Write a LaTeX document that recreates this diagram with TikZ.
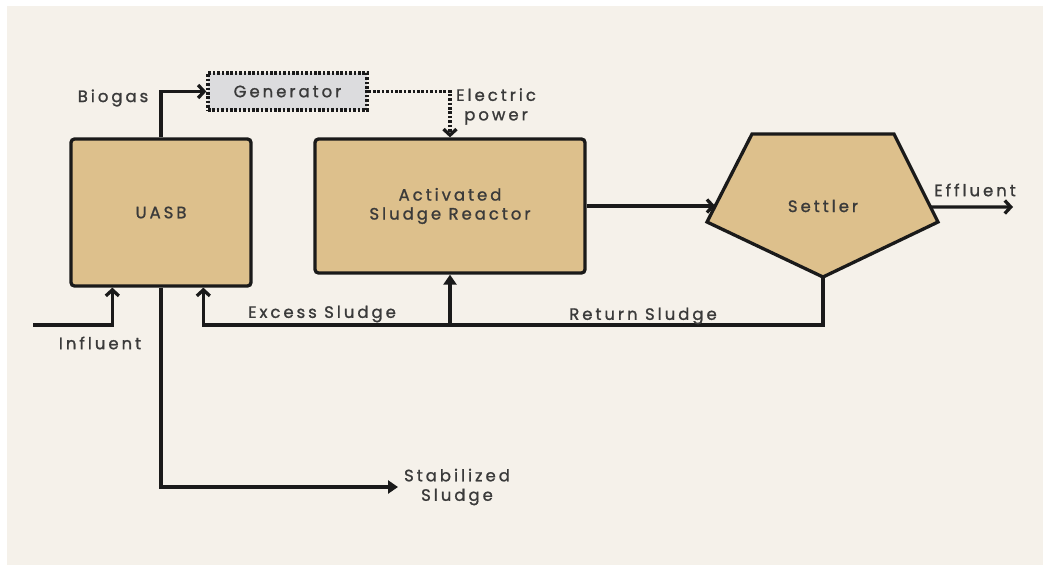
\documentclass[tikz,border=0pt]{standalone}
\usepackage{fontspec}
\setmainfont{Poppins}[LetterSpace=18, FakeBold=1.2]
\usetikzlibrary{arrows.meta,calc}
\definecolor{paper}{HTML}{F5F1EA}
\definecolor{tank}{HTML}{DDC08C}
\definecolor{genfill}{HTML}{DCDCDE}
\definecolor{ink}{HTML}{1A1A1A}
\definecolor{txt}{HTML}{3A3A3A}
\tikzset{
  unit/.style={draw=ink, fill=tank, line width=3.3pt, rounded corners=3.5pt,
    text=txt, font=\fontsize{16.5}{19}\selectfont, align=center},
  genbox/.style={draw=ink, fill=genfill, line width=3.3pt,
    dash pattern=on 2.6pt off 1.8pt, text=txt, font=\fontsize{16.5}{19}\selectfont},
  lbl/.style={text=txt, font=\fontsize{16.5}{19.5}\selectfont, align=center, inner sep=0pt},
  flow/.style={draw=ink, line width=3.3pt, -{Straight Barb[length=6pt,width=13pt,line width=3.3pt]}},
  flowfill/.style={draw=ink, line width=3.3pt, -{Triangle[length=10pt,width=13pt]}},
  dotflow/.style={draw=ink, line width=3.3pt, dash pattern=on 2.6pt off 1.8pt,
    -{Straight Barb[length=6pt,width=13pt,line width=3.3pt]}},
}
\begin{document}
\begin{tikzpicture}[x=1pt,y=-1pt]
\useasboundingbox (0,0) rectangle (1043,565);
\fill[white] (0,0) rectangle (1043,565);
\fill[paper] (7,6) rectangle (1043,565);

% process units
\node[unit, minimum width=180pt, minimum height=147pt] (uasb) at (161,212.5) {UASB};
\node[unit, minimum width=270pt, minimum height=134pt] (asr) at (450,206) {Activated\\Sludge Reactor};
\node[genbox, minimum width=159pt, minimum height=37pt] (gen) at (287.5,91.5) {Generator};

% settler outline
\coordinate (st1) at (752,134);
\coordinate (st2) at (894,134);
\coordinate (st3) at (938,222);
\coordinate (st4) at (823,277);
\coordinate (st5) at (707,222);
\filldraw[draw=ink, fill=tank, line width=3.3pt, line join=miter]
  (st1) -- (st2) -- (st3) -- (st4) -- (st5) -- cycle;
\node[lbl] (settler) at (823,206) {Settler};
\coordinate (sIn) at ($(st1)!0.818!(st5)$);
\coordinate (sOut) at ($(st2)!0.83!(st3)$);

% free ends and the sludge bus
\coordinate (inflStart) at (33,325);
\coordinate (bus) at (0,325);
\coordinate (effEnd) at (1013,207);
\coordinate (stabEnd) at (398,487);

% connectors
\draw[flow] (uasb.north) |- (gen.west);
\draw[dotflow] (gen.east) -| (asr.north);
\draw[flow] (asr.east) -- (asr.east -| sIn);
\draw[flow] (sOut) -- (effEnd);
\draw[flow] (inflStart) -| ([xshift=43pt]uasb.south west);
\draw[flow, line join=miter] (st4) -- (st4 |- bus) -| ([xshift=134pt]uasb.south west);
\draw[flowfill] (asr.south |- bus) -- (asr.south);
\draw[flowfill] (uasb.south) |- (stabEnd);

% stream labels
\node[lbl] (lbiogas) at (113,98) {Biogas};
\node[lbl] (lelec) at (496,106.5) {Electric\\power};
\node[lbl] (leff) at (975,190) {Effluent};
\node[lbl] (linf) at (100,343) {Influent};
\node[lbl] (lexcess) at (322,314) {Excess Sludge};
\node[lbl] (lreturn) at (643,316) {Return Sludge};
\node[lbl] (lstab) at (457,487) {Stabilized\\Sludge};
\end{tikzpicture}
\end{document}
